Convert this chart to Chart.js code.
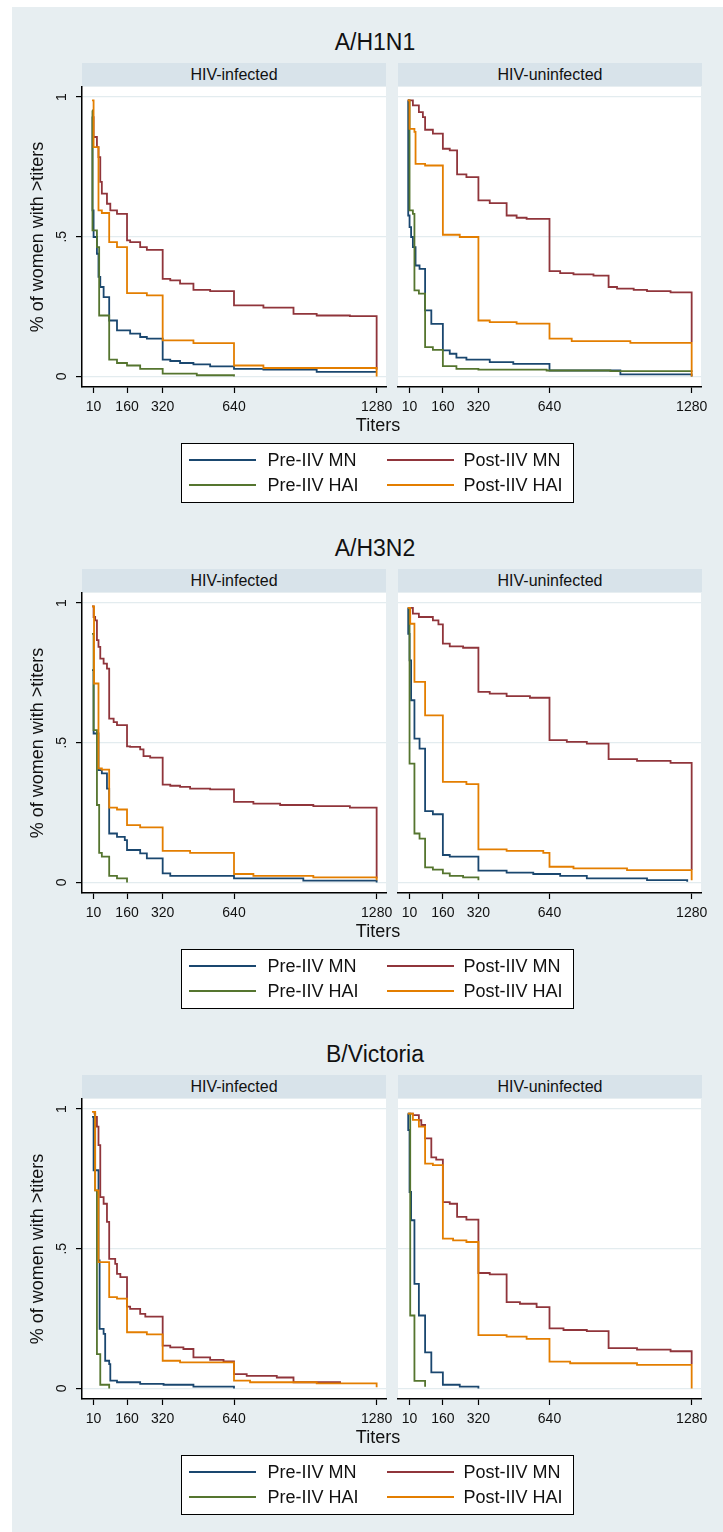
<!DOCTYPE html>
<html lang="en">
<head>
<meta charset="UTF-8" />
<title>Titers by HIV status</title>
<script src="https://cdn.jsdelivr.net/npm/chart.js"></script>
<style>
  body { margin: 0; background: #fff; font-family: "Liberation Sans", Arial, sans-serif; color: #111; }
  #page { position: relative; width: 723px; height: 1532px; overflow: hidden; }
  #bg { position: absolute; left: 12px; top: 7px; right: 0; bottom: 0; background: #e7eef1; }
  .abs { position: absolute; white-space: nowrap; }
  .ttl { font-size: 23px; line-height: 28px; text-align: center; }
  .strip { background: #d8e3ea; font-size: 16px; line-height: 23px; text-align: center; }
  .xt { font-size: 18px; line-height: 22px; text-align: center; }
  .legend { background: #fff; border: 1.5px solid #000; box-sizing: border-box; }
  .lg-line { height: 2px; }
  .lg-text { font-size: 18px; line-height: 20px; }
</style>
</head>
<body>
<div id="page"><div id="bg"></div></div>

<script>
  // axes and labels
  const xTicks = [10, 160, 320, 640, 1280];
  const yTicks = [0, 0.5, 1];
  const yTickLabels = ['0', '.5', '1'];
  const panelTitles = ['A/H1N1', 'A/H3N2', 'B/Victoria'];
  const groupLabels = ['HIV-infected', 'HIV-uninfected'];
  const seriesNames = ['Pre-IIV MN', 'Post-IIV MN', 'Pre-IIV HAI', 'Post-IIV HAI'];
  const seriesColors = ['#1a476f', '#90353b', '#55752f', '#e37e00'];

  // A/H1N1, HIV-infected
  const h1n1InfPreMNx = [3, 5, 10, 25, 32, 40, 55, 80, 115, 174, 219, 249, 320, 354, 398, 458, 533, 640, 772, 1011, 1280];
  const h1n1InfPreMNy = [0.93, 0.594, 0.499, 0.439, 0.356, 0.32, 0.284, 0.2, 0.165, 0.153, 0.141, 0.135, 0.06, 0.055, 0.048, 0.043, 0.036, 0.027, 0.024, 0.016, 0.016];
  const h1n1InfPostMNx = [3, 10, 25, 32, 40, 47, 70, 85, 115, 160, 174, 219, 249, 320, 354, 398, 458, 533, 640, 772, 907, 1011, 1160, 1280];
  const h1n1InfPostMNy = [0.928, 0.857, 0.821, 0.785, 0.696, 0.654, 0.618, 0.594, 0.582, 0.487, 0.481, 0.463, 0.453, 0.349, 0.344, 0.332, 0.31, 0.305, 0.254, 0.246, 0.224, 0.218, 0.216, 0.024];
  const h1n1InfPreHAIx = [3, 5, 25, 35, 80, 115, 160, 219, 320, 473, 640];
  const h1n1InfPreHAIy = [0.952, 0.523, 0.463, 0.218, 0.06, 0.048, 0.039, 0.027, 0.01, 0.004, 0];
  const h1n1InfPostHAIx = [3, 10, 32, 47, 80, 115, 160, 249, 320, 458, 640, 772, 1280];
  const h1n1InfPostHAIy = [0.988, 0.821, 0.594, 0.585, 0.481, 0.463, 0.298, 0.29, 0.129, 0.119, 0.039, 0.03, 0];

  // A/H1N1, HIV-uninfected
  const h1n1UninfPreMNx = [2, 4, 10, 17, 25, 37, 55, 80, 108, 160, 191, 221, 266, 371, 477, 640, 959, 1280];
  const h1n1UninfPreMNy = [0.988, 0.576, 0.534, 0.499, 0.463, 0.397, 0.385, 0.236, 0.188, 0.093, 0.081, 0.067, 0.06, 0.051, 0.045, 0.021, 0.007, 0];
  const h1n1UninfPostMNx = [2, 25, 52, 70, 80, 115, 160, 191, 224, 266, 320, 371, 447, 492, 537, 640, 688, 748, 838, 906, 944, 1019, 1079, 1185, 1280];
  const h1n1UninfPostMNy = [0.988, 0.97, 0.946, 0.928, 0.883, 0.869, 0.815, 0.809, 0.723, 0.713, 0.63, 0.62, 0.576, 0.568, 0.564, 0.377, 0.37, 0.365, 0.361, 0.32, 0.314, 0.31, 0.305, 0.301, 0.123];
  const h1n1UninfPreHAIx = [5, 10, 25, 32, 52, 80, 115, 160, 221, 320, 627, 914, 1280];
  const h1n1UninfPreHAIy = [0.988, 0.594, 0.582, 0.308, 0.296, 0.105, 0.095, 0.037, 0.027, 0.024, 0.021, 0.019, 0.016];
  const h1n1UninfPostHAIx = [2, 10, 32, 37, 80, 160, 236, 320, 371, 492, 640, 740, 1004, 1280];
  const h1n1UninfPostHAIy = [0.988, 0.886, 0.875, 0.761, 0.755, 0.507, 0.499, 0.2, 0.194, 0.189, 0.135, 0.126, 0.12, 0];

  // A/H3N2, HIV-infected
  const h3n2InfPreMNx = [3, 10, 32, 47, 70, 80, 115, 150, 160, 219, 249, 320, 354, 640, 951, 1280];
  const h3n2InfPreMNy = [0.76, 0.533, 0.402, 0.39, 0.336, 0.175, 0.163, 0.151, 0.116, 0.104, 0.086, 0.032, 0.023, 0.014, 0.006, 0];
  const h3n2InfPostMNx = [3, 10, 17, 25, 32, 40, 55, 70, 80, 100, 115, 160, 174, 219, 234, 264, 320, 354, 398, 443, 533, 640, 727, 847, 996, 1160, 1280];
  const h3n2InfPostMNy = [0.988, 0.95, 0.938, 0.867, 0.843, 0.801, 0.783, 0.765, 0.586, 0.574, 0.563, 0.487, 0.485, 0.476, 0.452, 0.447, 0.35, 0.346, 0.342, 0.336, 0.333, 0.288, 0.282, 0.277, 0.273, 0.268, 0.014];
  const h3n2InfPreHAIx = [3, 10, 25, 35, 47, 80, 115, 160];
  const h3n2InfPreHAIy = [0.89, 0.545, 0.277, 0.106, 0.092, 0.023, 0.014, 0];
  const h3n2InfPostHAIx = [3, 12, 32, 47, 80, 115, 160, 219, 320, 443, 640, 727, 996, 1280];
  const h3n2InfPostHAIy = [0.988, 0.712, 0.408, 0.404, 0.268, 0.261, 0.205, 0.197, 0.113, 0.106, 0.03, 0.023, 0.018, 0.008];

  // A/H3N2, HIV-uninfected
  const h3n2UninfPreMNx = [2, 4, 10, 17, 32, 55, 80, 115, 160, 191, 320, 447, 567, 688, 808, 1079, 1260];
  const h3n2UninfPreMNy = [0.983, 0.89, 0.795, 0.652, 0.515, 0.479, 0.255, 0.244, 0.098, 0.092, 0.042, 0.035, 0.03, 0.023, 0.014, 0.008, 0.002];
  const h3n2UninfPostMNx = [5, 25, 52, 115, 140, 160, 191, 251, 320, 371, 447, 552, 640, 718, 808, 906, 1034, 1185, 1280];
  const h3n2UninfPostMNy = [0.983, 0.962, 0.95, 0.938, 0.924, 0.855, 0.845, 0.84, 0.682, 0.676, 0.667, 0.661, 0.509, 0.503, 0.497, 0.441, 0.435, 0.428, 0.044];
  const h3n2UninfPreHAIx = [5, 10, 32, 55, 80, 115, 160, 191, 251, 320];
  const h3n2UninfPreHAIy = [0.983, 0.425, 0.175, 0.157, 0.054, 0.046, 0.032, 0.023, 0.018, 0.008];
  const h3n2UninfPostHAIx = [2, 13, 32, 80, 160, 266, 320, 447, 612, 640, 748, 989, 1280];
  const h3n2UninfPostHAIy = [0.983, 0.926, 0.718, 0.598, 0.36, 0.352, 0.118, 0.113, 0.106, 0.056, 0.05, 0.044, 0.008];

  // B/Victoria, HIV-infected
  const bvicInfPreMNx = [3, 10, 32, 37, 55, 62, 80, 85, 115, 219, 324, 458, 640];
  const bvicInfPreMNy = [0.972, 0.781, 0.458, 0.213, 0.195, 0.099, 0.087, 0.028, 0.022, 0.016, 0.013, 0.006, 0];
  const bvicInfPostMNx = [10, 17, 25, 32, 40, 55, 70, 80, 107, 115, 130, 160, 174, 219, 242, 320, 354, 413, 458, 533, 593, 640, 697, 832, 907, 1116];
  const bvicInfPostMNy = [0.984, 0.972, 0.937, 0.871, 0.685, 0.661, 0.596, 0.464, 0.446, 0.41, 0.398, 0.293, 0.285, 0.267, 0.257, 0.153, 0.147, 0.141, 0.111, 0.102, 0.097, 0.051, 0.045, 0.039, 0.022, 0.018];
  const bvicInfPreHAIx = [10, 17, 25, 40, 80];
  const bvicInfPreHAIy = [0.99, 0.709, 0.123, 0.013, 0];
  const bvicInfPostHAIx = [3, 17, 32, 80, 115, 160, 249, 320, 398, 640, 712, 1011, 1280];
  const bvicInfPostHAIy = [0.99, 0.709, 0.452, 0.327, 0.321, 0.201, 0.193, 0.099, 0.093, 0.028, 0.022, 0.018, 0.004];

  // B/Victoria, HIV-uninfected
  const bvicUninfPreMNx = [2, 4, 10, 17, 32, 52, 80, 108, 160, 236, 320];
  const bvicUninfPreMNy = [0.984, 0.925, 0.703, 0.602, 0.374, 0.261, 0.129, 0.057, 0.013, 0.006, 0];
  const bvicUninfPostMNx = [7, 25, 52, 63, 80, 108, 130, 160, 191, 224, 266, 320, 371, 447, 507, 582, 640, 703, 808, 906, 1034, 1185, 1280];
  const bvicUninfPostMNy = [0.984, 0.978, 0.96, 0.943, 0.895, 0.827, 0.819, 0.667, 0.661, 0.614, 0.604, 0.413, 0.408, 0.309, 0.303, 0.291, 0.215, 0.209, 0.205, 0.144, 0.139, 0.133, 0.087];
  const bvicUninfPreHAIx = [5, 13, 32, 80];
  const bvicUninfPreHAIy = [0.984, 0.261, 0.027, 0.006];
  const bvicUninfPostHAIx = [2, 25, 52, 80, 115, 160, 206, 266, 320, 447, 537, 640, 733, 1034, 1280];
  const bvicUninfPostHAIy = [0.984, 0.961, 0.937, 0.805, 0.799, 0.536, 0.53, 0.524, 0.191, 0.185, 0.177, 0.096, 0.09, 0.084, 0];

  // panel -> group -> series [x, y], series order as seriesNames
  const panels = [
    [
      [[h1n1InfPreMNx, h1n1InfPreMNy], [h1n1InfPostMNx, h1n1InfPostMNy], [h1n1InfPreHAIx, h1n1InfPreHAIy], [h1n1InfPostHAIx, h1n1InfPostHAIy]],
      [[h1n1UninfPreMNx, h1n1UninfPreMNy], [h1n1UninfPostMNx, h1n1UninfPostMNy], [h1n1UninfPreHAIx, h1n1UninfPreHAIy], [h1n1UninfPostHAIx, h1n1UninfPostHAIy]]
    ],
    [
      [[h3n2InfPreMNx, h3n2InfPreMNy], [h3n2InfPostMNx, h3n2InfPostMNy], [h3n2InfPreHAIx, h3n2InfPreHAIy], [h3n2InfPostHAIx, h3n2InfPostHAIy]],
      [[h3n2UninfPreMNx, h3n2UninfPreMNy], [h3n2UninfPostMNx, h3n2UninfPostMNy], [h3n2UninfPreHAIx, h3n2UninfPreHAIy], [h3n2UninfPostHAIx, h3n2UninfPostHAIy]]
    ],
    [
      [[bvicInfPreMNx, bvicInfPreMNy], [bvicInfPostMNx, bvicInfPostMNy], [bvicInfPreHAIx, bvicInfPreHAIy], [bvicInfPostHAIx, bvicInfPostHAIy]],
      [[bvicUninfPreMNx, bvicUninfPreMNy], [bvicUninfPostMNx, bvicUninfPostMNy], [bvicUninfPreHAIx, bvicUninfPreHAIy], [bvicUninfPostHAIx, bvicUninfPostHAIy]]
    ]
  ];

  Chart.defaults.font.family = '"Liberation Sans", Arial, sans-serif';
  Chart.defaults.color = '#111';

  const page = document.getElementById('page');

  function addDiv(cls, text, css, parent) {
    const d = document.createElement('div');
    d.className = 'abs ' + cls;
    if (text) d.textContent = text;
    d.style.cssText = css;
    (parent || page).appendChild(d);
    return d;
  }

  // white plot region behind the lines
  const whiteArea = {
    id: 'whiteArea',
    beforeDraw(chart) {
      const a = chart.chartArea;
      chart.ctx.save();
      chart.ctx.fillStyle = '#fff';
      chart.ctx.fillRect(a.left, a.top, a.right - a.left, a.bottom - a.top);
      chart.ctx.restore();
    }
  };

  function makeChart(p, g, off) {
    const isLeft = g === 0;
    const w = isLeft ? 380 : 327, h = 347;
    const cv = document.createElement('canvas');
    cv.width = w; cv.height = h;
    cv.style.cssText = `position:absolute;left:${isLeft ? 20 : 388}px;top:${70 + off}px;width:${w}px;height:${h}px`;
    page.appendChild(cv);

    const sets = panels[p][g];
    // last Stata series ends up on top
    const datasets = [3, 2, 1, 0].map(i => ({
      label: seriesNames[i],
      data: sets[i][0].map((x, k) => ({ x: x, y: sets[i][1][k] })),
      borderColor: seriesColors[i],
      borderWidth: 1.8,
      pointRadius: 0,
      stepped: true,
      fill: false,
      tension: 0
    }));

    new Chart(cv, {
      type: 'line',
      data: { datasets },
      options: {
        responsive: false,
        animation: false,
        events: [],
        layout: { padding: { left: isLeft ? 0 : 10, right: 14, top: 17, bottom: 0 } },
        plugins: { legend: { display: false }, tooltip: { enabled: false } },
        scales: {
          x: {
            type: 'linear',
            min: -42,
            max: 1322,
            afterBuildTicks: s => { s.ticks = xTicks.map(v => ({ value: v })); },
            afterFit: s => { s.height = 30; },
            ticks: { font: { size: 14 }, padding: 6, maxRotation: 0, autoSkip: false, callback: v => String(v) },
            grid: { drawOnChartArea: false, drawTicks: true, tickLength: 6, tickColor: '#000', tickWidth: 1.2 },
            border: { display: true, color: '#000', width: 1.5 }
          },
          y: {
            type: 'linear',
            min: -0.038,
            max: 1.036,
            afterBuildTicks: s => { s.ticks = yTicks.map(v => ({ value: v })); },
            afterFit: s => { s.width = isLeft ? 62 : 0; },
            ticks: {
              display: isLeft,
              font: { size: 14 },
              minRotation: 90,
              maxRotation: 90,
              crossAlign: 'center',
              padding: 8,
              callback: v => yTickLabels[yTicks.indexOf(v)]
            },
            grid: { color: '#e3ecef', lineWidth: 1.2, drawTicks: isLeft, tickLength: 6, tickColor: '#000', tickWidth: 1.2 },
            border: { display: isLeft, color: '#000', width: 1.5 },
            title: {
              display: isLeft,
              text: '% of women with >titers',
              font: { size: 18 },
              color: '#111',
              padding: { top: 7, bottom: 0 }
            }
          }
        }
      },
      plugins: [whiteArea]
    });
  }

  panelTitles.forEach((title, p) => {
    const off = p * 506;
    addDiv('ttl', title, `left:225px;width:300px;top:${28 + off}px`);
    groupLabels.forEach((lab, g) => {
      addDiv('strip', lab, `left:${g === 0 ? 82 : 398}px;width:304px;top:${63 + off}px;height:23px`);
      makeChart(p, g, off);
    });
    addDiv('xt', 'Titers', `left:278px;width:200px;top:${414 + off}px`);

    const box = addDiv('legend', '', `left:181px;top:${443 + off}px;width:393px;height:60px`);
    seriesNames.forEach((name, i) => {
      const row = i < 2 ? 0 : 1, col = i % 2;
      const cy = row === 0 ? 16 : 41;
      addDiv('lg-line', '', `left:${col === 0 ? 6.5 : 204.5}px;width:67px;top:${cy - 1}px;background:${seriesColors[i]}`, box);
      addDiv('lg-text', name, `left:${col === 0 ? 85.5 : 281.5}px;top:${cy - 10}px`, box);
    });
  });
</script>
</body>
</html>
